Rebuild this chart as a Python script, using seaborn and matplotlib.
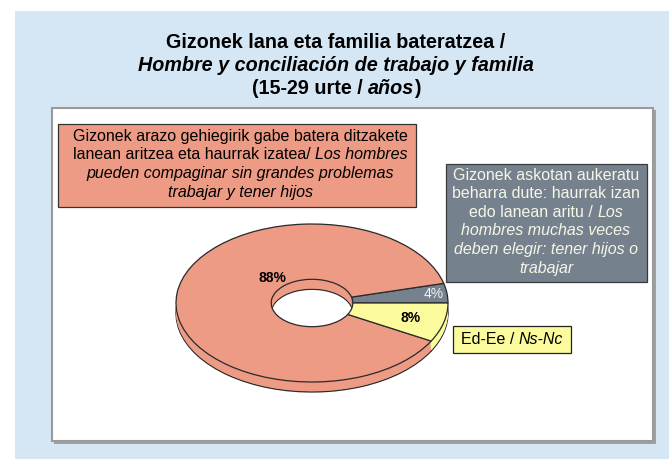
import matplotlib
matplotlib.use("Agg")
import matplotlib.pyplot as plt
from matplotlib.patches import Rectangle
import numpy as np
import seaborn as sns

# ---- data -------------------------------------------------------------
categories = ["Gizonek askotan aukeratu beharra dute", "Gizonek arazo gehiegirik gabe", "Ed-Ee / Ns-Nc"]
values = [4, 88, 8]
pct_labels = ["4%", "88%", "8%"]
slice_colors = ["#75818D", "#EE9B85", "#FBFA9C"]

title_lines = [
    [("Gizonek lana eta familia bateratzea /", False)],
    [("Hombre y conciliación de trabajo y familia", True)],
    [("(15-29 urte /", False), ("años", True), (")", False)],
]
box_big = [
    [("Gizonek arazo gehiegirik gabe batera ditzakete", False)],
    [("lanean aritzea eta haurrak izatea/", False), ("Los hombres", True)],
    [("pueden compaginar sin grandes problemas", True)],
    [("trabajar y tener hijos", True)],
]
box_grey = [
    [("Gizonek askotan aukeratu", False)],
    [("beharra dute: haurrak izan", False)],
    [("edo lanean aritu /", False), ("Los", True)],
    [("hombres muchas veces", True)],
    [("deben elegir: tener hijos o", True)],
    [("trabajar", True)],
]
box_yellow = [[("Ed-Ee /", False), ("Ns-Nc", True)]]

# ---- style ------------------------------------------------------------
sns.set_theme(style="white")
plt.rcParams["font.family"] = ["Liberation Sans", "DejaVu Sans"]

W, H = 669, 459
fig = plt.figure(figsize=(W / 100, H / 100), dpi=100)
fig.patch.set_facecolor("white")
r = fig.canvas.get_renderer()


def fx(x):
    return x / W


def fy(y):
    return 1 - y / H


def rect(x0, y0, x1, y1, **kw):
    p = Rectangle((fx(x0), fy(y1)), (x1 - x0) / W, (y1 - y0) / H,
                  transform=fig.transFigure, **kw)
    fig.patches.append(p)


def rich_line(xc, yc, parts, size, color, bold=False, z=5):
    objs = []
    for s, it in parts:
        t = fig.text(0, fy(yc), s, fontsize=size, color=color,
                     fontstyle="italic" if it else "normal",
                     fontweight="bold" if bold else "normal",
                     ha="left", va="center", zorder=z)
        objs.append(t)
    probe1 = fig.text(0, 0, "n n", fontsize=size, fontweight="bold" if bold else "normal")
    probe2 = fig.text(0, 0, "nn", fontsize=size, fontweight="bold" if bold else "normal")
    space = probe1.get_window_extent(r).width - probe2.get_window_extent(r).width
    probe1.remove()
    probe2.remove()
    widths = [t.get_window_extent(r).width for t in objs]
    gaps = []
    for i in range(len(parts) - 1):
        a, b = parts[i][0], parts[i + 1][0]
        gaps.append(0 if (a.endswith("(") or b.startswith(")")) else space)
    total = sum(widths) + sum(gaps)
    x = xc - total / 2
    for i, t in enumerate(objs):
        t.set_x(fx(x))
        x += widths[i] + (gaps[i] if i < len(gaps) else 0)


# backgrounds
rect(15, 11, 669, 459, facecolor="#D5E6F5", edgecolor="none", zorder=-3)
rect(54, 110, 656, 444, facecolor="#A0A0A0", edgecolor="none", zorder=-2)
rect(52, 108, 653, 441, facecolor="white", edgecolor="#9A9A9A", linewidth=1.5, zorder=-1)

# title
for i, line in enumerate(title_lines):
    rich_line(336, 43 + i * 23, line, 14.2, "black", bold=True)

# ---- donut (pseudo 3D) ------------------------------------------------
cx, cy, rx, ry = 312, 303, 136, 79
ax = fig.add_axes([fx(cx - 1.25 * rx), (H - cy - 1.25 * ry) / H, 2.5 * rx / W, 2.5 * ry / H])
ax.patch.set_visible(False)
depth = 10 / ry
edge = dict(width=0.7, edgecolor="#2A2A2A", linewidth=0.9)
noedge = dict(width=0.7, edgecolor="none", linewidth=0)
ax.pie(values, colors=slice_colors, startangle=0, counterclock=True,
       center=(0, -depth), wedgeprops=edge)
for d in np.linspace(depth, 0, 12)[1:]:
    ax.pie(values, colors=slice_colors, startangle=0, counterclock=True,
           center=(0, -d), wedgeprops=noedge)
wedges, _ = ax.pie(values, colors=slice_colors, startangle=0, counterclock=True,
                   center=(0, 0), wedgeprops=edge)
ax.set_aspect("auto")
ax.set_xlim(-1.25, 1.25)
ax.set_ylim(-1.25, 1.25)
ax.axis("off")

# percentage labels: (angle override or None, radius, weight, color)
label_style = [(None, 0.9, "normal", "#F2F2F2"),
               (132, 0.43, "bold", "black"),
               (None, 0.75, "bold", "black")]
for w, lab, (ang, rad, wt, col) in zip(wedges, pct_labels, label_style):
    a = np.deg2rad((w.theta1 + w.theta2) / 2 if ang is None else ang)
    ax.text(rad * np.cos(a), rad * np.sin(a), lab, ha="center", va="center",
            fontsize=10, fontweight=wt, color=col)

# ---- callout boxes ----------------------------------------------------
rect(58, 124, 416, 207, facecolor=slice_colors[1], edgecolor="#333333", linewidth=0.9, zorder=3)
for i, line in enumerate(box_big):
    rich_line(240, 136 + i * 18.7, line, 11.5, "black")

rect(446, 164, 647, 282, facecolor=slice_colors[0], edgecolor="#3A3A3A", linewidth=0.9, zorder=3)
for i, line in enumerate(box_grey):
    rich_line(546, 175 + i * 18.6, line, 11.5, "#F6F6E6")

rect(453, 326, 571, 353, facecolor=slice_colors[2], edgecolor="#222222", linewidth=0.9, zorder=3)
rich_line(512, 340, box_yellow[0], 11.5, "black")

fig.savefig("out.png", dpi=100)
